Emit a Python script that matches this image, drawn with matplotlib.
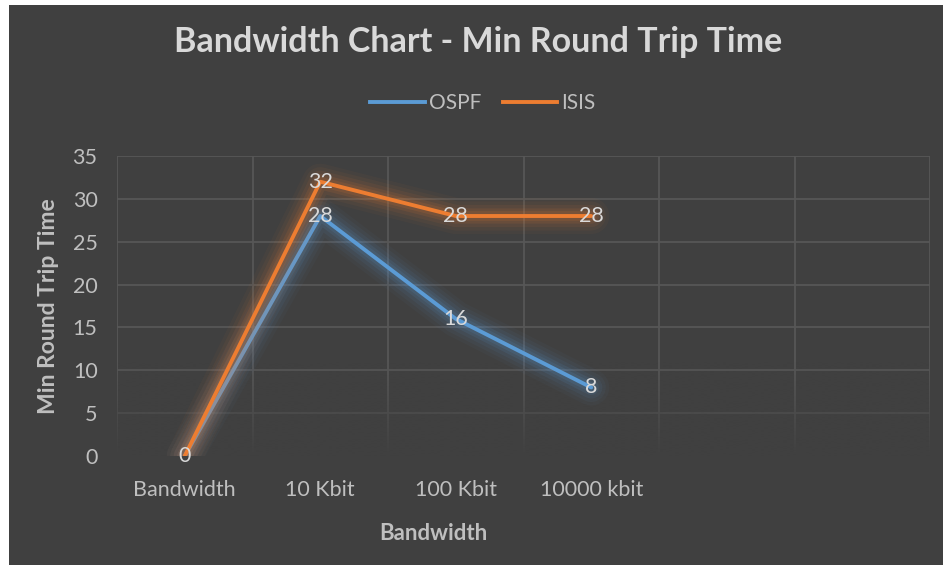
import numpy as np
import matplotlib
matplotlib.use("Agg")
import matplotlib.pyplot as plt
import matplotlib.patheffects as pe
from matplotlib.patches import Rectangle
from matplotlib.lines import Line2D

plt.rcParams['font.family'] = ['Lato', 'DejaVu Sans']

categories = ["Bandwidth", "10 Kbit", "100 Kbit", "10000 kbit", "", ""]
ospf = [0, 28, 16, 8]
isis = [0, 32, 28, 28]
y_ticks = [0, 5, 10, 15, 20, 25, 30, 35]

BG = "#404040"
GRID = "#575757"
TXT = "#bfbfbf"
LBL = "#d9d9d9"
BLUE = "#5b9bd5"
ORANGE = "#ed7d31"

W, H = 943, 565
fig = plt.figure(figsize=(W / 100, H / 100), dpi=100)
fig.patch.set_facecolor("white")
fig.add_artist(Rectangle((9 / W, 0), 1 - 9 / W, 1 - 5 / H, transform=fig.transFigure,
                         facecolor=BG, edgecolor="none", zorder=0))

ax = fig.add_axes([117 / W, (H - 456) / H, (930 - 117) / W, (456 - 156) / H])
ax.set_facecolor(BG)
for s in ax.spines.values():
    s.set_visible(False)

n = len(categories)
ax.set_xticks(range(n))
ax.set_xticklabels(categories)
ax.set_yticks(y_ticks)
ax.tick_params(axis='both', which='both', length=0)
ax.tick_params(axis='both', labelsize=15.5, labelcolor=TXT)
ax.tick_params(axis='x', pad=17)
ax.tick_params(axis='y', pad=14)

# grid lines
for yv in y_ticks[1:]:
    ax.axhline(yv, color=GRID, lw=1.3, zorder=1)
for xv in np.arange(-0.5, n, 1.0):
    ax.axvline(xv, color=GRID, lw=1.3, zorder=1)

# fade the grid toward the bottom of the plot area
fade = np.zeros((200, 1, 4))
fade[..., :3] = matplotlib.colors.to_rgb(BG)
fade[:, 0, 3] = np.linspace(1.0, 0.0, 200) ** 1.2
ax.imshow(fade, extent=(-0.5, n - 0.5, 0, 11), origin='lower', aspect='auto', zorder=2,
          interpolation='bilinear')
ax.set_xlim(-0.5, n - 0.5)
ax.set_ylim(0, 35)


def glow(color):
    effects = []
    for w, a in [(26, 0.04), (21, 0.05), (16, 0.07), (11, 0.10), (7, 0.12)]:
        effects.append(pe.Stroke(linewidth=w, foreground=color, alpha=a))
    effects.append(pe.Normal())
    return effects


x = np.arange(len(ospf))
ax.plot(x, ospf, color=BLUE, lw=2.8, zorder=4, solid_capstyle='round',
        solid_joinstyle='round', path_effects=glow(BLUE))
ax.plot(x, isis, color=ORANGE, lw=2.8, zorder=5, solid_capstyle='round',
        solid_joinstyle='round', path_effects=glow(ORANGE))

for xi, v in zip(x, ospf):
    if v != 0:
        ax.text(xi, v, str(v), ha='center', va='center', color=LBL, fontsize=15.5, zorder=6)
for xi, v in zip(x, isis):
    ax.text(xi, v, str(v), ha='center', va='center', color=LBL, fontsize=15.5, zorder=6)

ax.set_xlabel("Bandwidth", fontsize=16, fontweight='bold', color=TXT)
ax.xaxis.set_label_coords((433 - 117) / (930 - 117), -(533 - 456) / (456 - 156))
ax.xaxis.label.set_va('center')
ax.set_ylabel("Min Round Trip Time", fontsize=16.5, fontweight='bold', color=TXT, labelpad=10)

fig.text(478 / W, 1 - 42 / H, "Bandwidth Chart - Min Round Trip Time", ha='center', va='center',
         fontsize=24.5, fontweight='bold', color=LBL)

handles = [Line2D([], [], color=BLUE, lw=2.8), Line2D([], [], color=ORANGE, lw=2.8)]
leg = fig.legend(handles, ["OSPF", "ISIS"], loc='center', bbox_to_anchor=(483 / W, 1 - 103 / H),
                 ncol=2, frameon=False, fontsize=15, labelcolor=TXT, handlelength=2.6,
                 columnspacing=1.05, handletextpad=0.2)

fig.savefig("out.png", dpi=100, facecolor=fig.get_facecolor())
